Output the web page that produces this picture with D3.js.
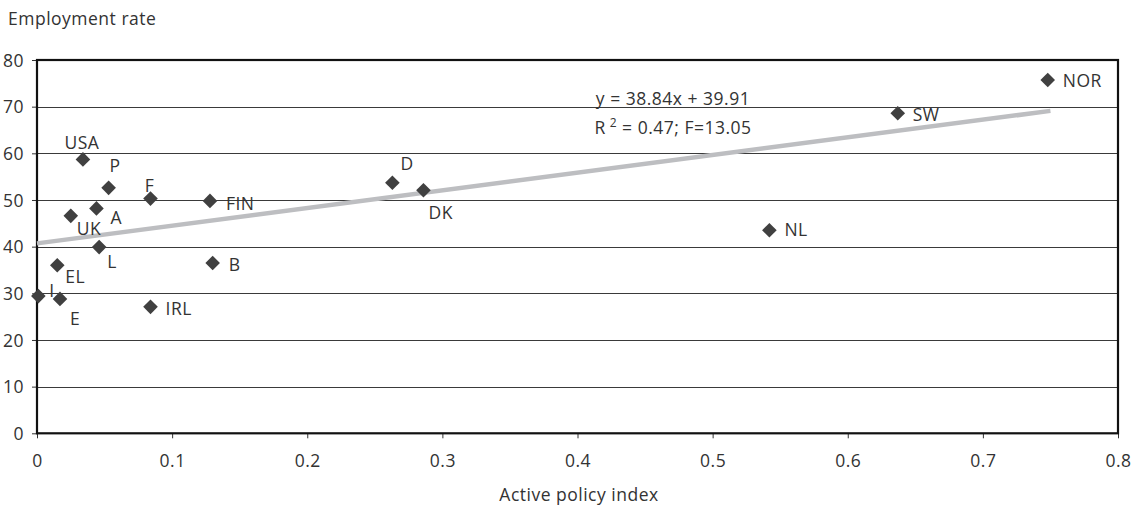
<!DOCTYPE html>
<html><head><meta charset="utf-8">
<script src="https://cdn.jsdelivr.net/npm/d3@7/dist/d3.min.js"></script>
<style>
html,body{margin:0;padding:0;background:#fff;}
svg text{font-family:"Open Sans",sans-serif;font-size:17.5px;letter-spacing:0.5px;fill:#333;}
</style></head>
<body><svg id="c" width="1136" height="509"></svg>
<script>
const countries = ["USA","P","A","UK","F","FIN","L","EL","B","I","E","IRL","D","DK","NL","NOR","SW"];
const policyIndex = [0.034,0.053,0.044,0.025,0.084,0.128,0.046,0.015,0.130,0.001,0.017,0.084,0.263,0.286,0.542,0.748,0.637];
const employmentRate = [58.7,52.6,48.2,46.6,50.3,49.8,39.9,36.0,36.5,29.4,28.8,27.1,53.7,52.1,43.5,75.7,68.6];
const xTicks = [0,0.1,0.2,0.3,0.4,0.5,0.6,0.7,0.8];
const yTicks = [0,10,20,30,40,50,60,70,80];
const trendX = [0,0.75];
const trendY = [40.7,69.1];
const equationLines = ["y = 38.84x + 39.91","R","2"," = 0.47; F=13.05"];

// label placement (offsets in px relative to marker)
const labelPlace = {
  USA:[-1,-10,"middle"], P:[1,-16,"start"], A:[14,16,"start"], UK:[6,19,"start"],
  F:[-1,-7,"middle"], FIN:[16,9,"start"], L:[8,21,"start"], EL:[8,18,"start"],
  B:[16,8,"start"], I:[11,1,"start"], E:[10,26,"start"], IRL:[15,8,"start"],
  D:[8,-13,"start"], DK:[5,29,"start"], NL:[15,6,"start"], NOR:[15,7,"start"], SW:[15,8,"start"]
};

const svg = d3.select("#c");
const L=37, R=1118, T=60, B=433.3;
const x = d3.scaleLinear().domain([0,0.8]).range([L,R]);
const y = d3.scaleLinear().domain([0,80]).range([B,T]);

// gridlines
svg.append("g").selectAll("line").data(yTicks.filter(d=>d>0 && d<80)).join("line")
  .attr("x1",L).attr("x2",R).attr("y1",d=>Math.round(y(d))+0.5).attr("y2",d=>Math.round(y(d))+0.5)
  .attr("stroke","#3a3a3a").attr("stroke-width",1);

// axes
const ya = svg.append("g").attr("transform",`translate(${L},0)`)
  .call(d3.axisLeft(y).tickValues(yTicks).tickSize(5).tickPadding(8).tickFormat(d3.format("d")));
const xa = svg.append("g").attr("transform",`translate(0,${B})`)
  .call(d3.axisBottom(x).tickValues(xTicks).tickSize(5).tickPadding(16).tickFormat(d=>d===0?"0":d3.format(".1f")(d)));
[ya,xa].forEach(a=>{
  a.select(".domain").remove();
  a.selectAll(".tick line").attr("stroke","#333").attr("stroke-width",1);
  a.selectAll(".tick text").attr("fill","#333").style("font-size","17.5px").style("font-family","'Open Sans',sans-serif");
});
ya.selectAll(".tick text").attr("dy","0.36em");

// frame
svg.append("rect").attr("x",L).attr("y",T).attr("width",R-L).attr("height",B-T)
  .attr("fill","none").attr("stroke","#111").attr("stroke-width",2.2);

// trend line
svg.append("line").attr("x1",x(trendX[0])).attr("y1",y(trendY[0])).attr("x2",x(trendX[1])).attr("y2",y(trendY[1]))
  .attr("stroke","#bdbec1").attr("stroke-width",4.5);

// points
const data = countries.map((c,i)=>({c, x:policyIndex[i], y:employmentRate[i]}));
const s = 7.3;
const diamond = `M0,${-s}L${s},0L0,${s}L${-s},0Z`;
svg.append("g").selectAll("path").data(data).join("path")
  .attr("d",diamond).attr("transform",d=>`translate(${x(d.x)},${y(d.y)})`).attr("fill","#404040");

svg.append("g").selectAll("text").data(data).join("text")
  .attr("x",d=>x(d.x)+labelPlace[d.c][0]).attr("y",d=>y(d.y)+labelPlace[d.c][1])
  .attr("text-anchor",d=>labelPlace[d.c][2]).text(d=>d.c);

// equation
svg.append("text").attr("x",673).attr("y",105).attr("text-anchor","middle").text(equationLines[0]);
const eq2 = svg.append("text").attr("x",673).attr("y",134).attr("text-anchor","middle");
eq2.append("tspan").text(equationLines[1]);
eq2.append("tspan").attr("dx",4).attr("dy",-7).style("font-size","12px").text(equationLines[2]);
eq2.append("tspan").attr("dy",7).text(equationLines[3]);

// axis titles
svg.append("text").attr("x",8).attr("y",25).text("Employment rate");
svg.append("text").attr("x",579).attr("y",501).attr("text-anchor","middle").text("Active policy index");
</script></body></html>
